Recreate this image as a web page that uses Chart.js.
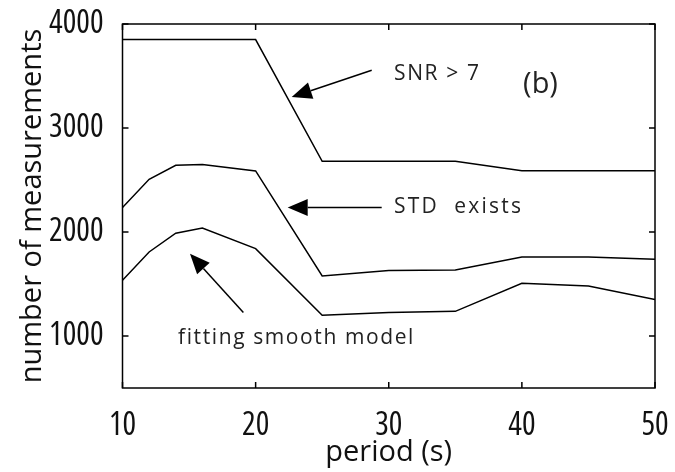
<!DOCTYPE html>
<html>
<head>
<meta charset="utf-8">
<script src="https://cdn.jsdelivr.net/npm/chart.js@4/dist/chart.umd.min.js"></script>
<style>
  html, body { margin: 0; padding: 0; background: #fff; }
  #wrap { width: 675px; height: 472px; position: relative; }
</style>
</head>
<body>
<div id="wrap"><canvas id="c" width="675" height="472"></canvas></div>
<script>
// Period (s) and number of measurements for each selection criterion
const periods    = [10, 12, 14, 16, 20, 25, 30, 35, 40, 45, 50];
const snrAbove7  = [3850, 3850, 3850, 3850, 3850, 2680, 2680, 2680, 2590, 2590, 2590];
const stdExists  = [2235, 2507, 2641, 2648, 2587, 1577, 1630, 1635, 1760, 1760, 1738];
const smoothFit  = [1536, 1808, 1988, 2038, 1840, 1199, 1225, 1237, 1507, 1481, 1350];

const xTickValues = [10, 20, 30, 40, 50];
const yTickValues = [1000, 2000, 3000, 4000];

// Labels with arrows, anchored in data units (period, count)
const labelTexts = ['SNR > 7', 'STD  exists', 'fitting smooth model', '(b)'];
const labelX     = [30.4, 30.4, 14.17, 40.09];
const labelY     = [3465, 2180, 920, 3334];
const arrowFromX = [28.72, 29.47, 19.08];
const arrowFromY = [3555, 2235, 1225];
const arrowToX   = [22.71, 22.41, 15.07];
const arrowToY   = [3298, 2235, 1792];

const TEXT_FONT = '"Open Sans", "Noto Sans", sans-serif';

// Narrow numerals for the tick labels: use the first condensed face available
function pickTickFont() {
  const probe = document.createElement('canvas').getContext('2d');
  const candidates = [
    { weight: 'normal', family: '"Liberation Sans Narrow"' },
    { weight: 'normal condensed', family: '"Noto Sans"' },
    { weight: 'normal condensed', family: '"Open Sans"' },
    { weight: 'normal condensed', family: 'Roboto' }
  ];
  probe.font = '100px "DejaVu Sans Condensed"';
  const ref = probe.measureText('4000').width;
  for (const c of candidates) {
    probe.font = '100px sans-serif';
    probe.font = c.weight + ' 100px ' + c.family;
    const w = probe.measureText('4000').width;
    if (w < 200 && w < ref - 20) return { weight: c.weight, family: c.family, size: 32 };
  }
  return { weight: 'normal', family: '"DejaVu Sans Condensed", "DejaVu Sans", sans-serif', size: 30 };
}
const tickFont = pickTickFont();

const pts = vals => periods.map((p, i) => ({ x: p, y: vals[i] }));

const lineStyle = {
  borderColor: '#000',
  borderWidth: 1.5,
  pointRadius: 0,
  tension: 0,
  fill: false
};

// Box frame with inward ticks on all four sides
const framePlugin = {
  id: 'frame',
  afterDraw(chart) {
    const { ctx, chartArea: a, scales } = chart;
    const len = 6;
    ctx.save();
    ctx.strokeStyle = '#000';
    ctx.lineWidth = 1.5;
    ctx.strokeRect(a.left, a.top, a.right - a.left, a.bottom - a.top);
    ctx.beginPath();
    xTickValues.forEach(v => {
      const px = scales.x.getPixelForValue(v);
      ctx.moveTo(px, a.bottom); ctx.lineTo(px, a.bottom - len);
      ctx.moveTo(px, a.top);    ctx.lineTo(px, a.top + len);
    });
    yTickValues.forEach(v => {
      const py = scales.y.getPixelForValue(v);
      ctx.moveTo(a.left, py);  ctx.lineTo(a.left + len, py);
      ctx.moveTo(a.right, py); ctx.lineTo(a.right - len, py);
    });
    ctx.stroke();
    ctx.restore();
  }
};

// Text labels and filled-head arrows
const notesPlugin = {
  id: 'notes',
  afterDatasetsDraw(chart) {
    const { ctx, scales } = chart;
    const X = v => scales.x.getPixelForValue(v);
    const Y = v => scales.y.getPixelForValue(v);
    const spacing = ['1.6px', '2.2px', '1.6px', '0px'];
    ctx.save();
    ctx.fillStyle = '#222';
    ctx.textBaseline = 'alphabetic';
    ctx.textAlign = 'left';
    labelTexts.forEach((t, i) => {
      ctx.font = (i === 3 ? '29px ' : '21px ') + TEXT_FONT;
      ctx.letterSpacing = spacing[i];
      ctx.fillText(t, X(labelX[i]), Y(labelY[i]));
    });
    ctx.letterSpacing = '0px';

    ctx.strokeStyle = '#000';
    ctx.fillStyle = '#000';
    ctx.lineWidth = 1.5;
    const headLen = 20, headHalf = 8.5;
    arrowFromX.forEach((fx, i) => {
      const x0 = X(fx), y0 = Y(arrowFromY[i]);
      const x1 = X(arrowToX[i]), y1 = Y(arrowToY[i]);
      const ang = Math.atan2(y1 - y0, x1 - x0);
      const bx = x1 - headLen * Math.cos(ang), by = y1 - headLen * Math.sin(ang);
      ctx.beginPath();
      ctx.moveTo(x0, y0); ctx.lineTo(bx, by);
      ctx.stroke();
      ctx.beginPath();
      ctx.moveTo(x1, y1);
      ctx.lineTo(bx + headHalf * Math.sin(ang), by - headHalf * Math.cos(ang));
      ctx.lineTo(bx - headHalf * Math.sin(ang), by + headHalf * Math.cos(ang));
      ctx.closePath();
      ctx.fill();
    });
    ctx.restore();
  }
};

const noPad = s => { s.paddingLeft = 0; s.paddingRight = 0; s.paddingTop = 0; s.paddingBottom = 0; };

new Chart(document.getElementById('c'), {
  type: 'line',
  data: {
    datasets: [
      { label: 'SNR > 7', data: pts(snrAbove7), ...lineStyle },
      { label: 'STD exists', data: pts(stdExists), ...lineStyle },
      { label: 'fitting smooth model', data: pts(smoothFit), ...lineStyle }
    ]
  },
  options: {
    responsive: false,
    animation: false,
    devicePixelRatio: 1,
    layout: { padding: { top: 24, right: 20, left: 0, bottom: 0 } },
    plugins: { legend: { display: false }, tooltip: { enabled: false } },
    scales: {
      x: {
        type: 'linear',
        min: 10, max: 50,
        grid: { display: false },
        border: { display: false },
        afterBuildTicks: s => { s.ticks = xTickValues.map(v => ({ value: v })); },
        afterFit: s => { s.height = 84; noPad(s); },
        ticks: {
          padding: 11,
          color: '#111',
          font: tickFont,
          maxRotation: 0,
          autoSkip: false,
          callback: v => String(v)
        },
        title: {
          display: true,
          text: 'period (s)',
          color: '#111',
          font: { family: TEXT_FONT, size: 29 },
          padding: { top: 0, bottom: 2 }
        }
      },
      y: {
        type: 'linear',
        min: 500, max: 4000,
        grid: { display: false },
        border: { display: false },
        afterBuildTicks: s => { s.ticks = yTickValues.map(v => ({ value: v })); },
        afterFit: s => { s.width = 122.5; noPad(s); },
        ticks: {
          padding: 11,
          color: '#111',
          font: tickFont,
          autoSkip: false,
          callback: v => String(v)
        },
        title: {
          display: true,
          text: 'number of measurements',
          color: '#111',
          font: { family: TEXT_FONT, size: 29 },
          padding: { top: 15, bottom: 0 }
        }
      }
    }
  },
  plugins: [framePlugin, notesPlugin]
});
</script>
</body>
</html>
